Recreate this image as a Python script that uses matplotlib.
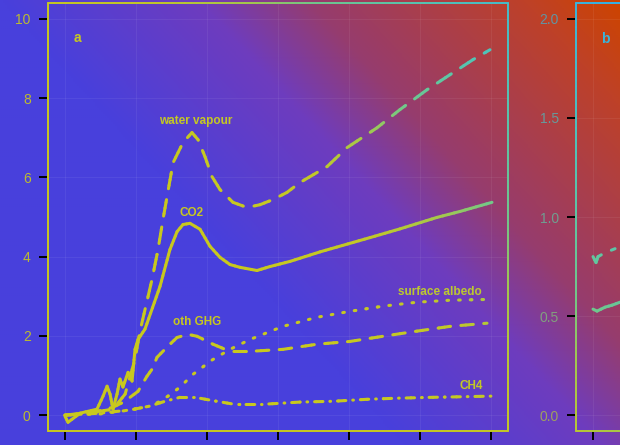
import numpy as np
import matplotlib
matplotlib.use("Agg")
import matplotlib.pyplot as plt
from matplotlib.colors import LinearSegmentedColormap

plt.rcParams['font.family'] = ['Liberation Sans', 'DejaVu Sans']
plt.rcParams['lines.scale_dashes'] = False

W, H, DPI = 620, 445, 100

# panel a, values (x in model years, y in W m-2)
co2_x = [0, 2.1, 10.6, 22.5, 26.8, 29.6, 31.7, 33.8, 36.6, 38.7, 40.8, 44.4, 47.2, 49.3, 51.4,
         56.3, 66.9, 73.9, 78.9, 83.1, 88.0, 95.1, 102.1, 109.2, 116.2, 123.2, 135.2, 144.4,
         158.5, 179.6, 214.8, 235.9, 262.0, 278.2, 300.7]
co2_y = [-0.03, -0.18, 0.05, 0.15, 0.48, 0.73, 0.53, 0.15, 0.53, 0.91, 0.71, 1.08, 0.86, 1.66, 1.91,
         2.17, 3.25, 4.18, 4.63, 4.81, 4.84, 4.69, 4.26, 3.98, 3.80, 3.73, 3.65, 3.75,
         3.88, 4.12, 4.48, 4.70, 4.99, 5.14, 5.37]

wv_x = [0, 24.6, 33.8, 42.3, 49.3, 52.8, 61.3, 65.5, 69.0, 76.1, 83.1, 89.4, 93.7, 98.6, 103.5,
        109.2, 118.3, 128.2, 137.3, 146.5, 156.3, 165.5, 184.5, 198.6, 219.7, 235.9, 254.9,
        271.1, 287.3, 299.3]
wv_y = [0, 0.10, 0.15, 0.53, 1.41, 2.12, 3.43, 4.18, 4.94, 6.37, 6.88, 7.13, 6.95, 6.52, 6.02,
        5.69, 5.37, 5.24, 5.31, 5.44, 5.62, 5.87, 6.27, 6.75, 7.25, 7.71, 8.21,
        8.59, 8.97, 9.22]

ghg_x = [0, 17.6, 33.8, 42.3, 45.8, 51.4, 57.7, 61.3, 64.8, 72.5, 78.9, 86.6, 93.0, 104.2,
         116.2, 130.3, 153.5, 177.5, 200.7, 223.9, 247.9, 271.1, 297.2]
ghg_y = [0, 0.05, 0.20, 0.35, 0.45, 0.60, 0.98, 1.16, 1.46, 1.74, 1.96, 2.04, 1.99, 1.79,
         1.61, 1.61, 1.66, 1.79, 1.86, 1.99, 2.12, 2.24, 2.32]

alb_x = [0, 24.6, 45.8, 59.9, 66.9, 72.5, 78.9, 84.5, 90.1, 95.1, 102.1, 116.2, 130.3,
         153.5, 177.5, 200.7, 223.9, 247.9, 271.1, 297.9]
alb_y = [0, 0.03, 0.13, 0.23, 0.35, 0.48, 0.65, 0.83, 1.03, 1.16, 1.36, 1.66, 1.91,
         2.24, 2.47, 2.62, 2.75, 2.85, 2.90, 2.92]

ch4_x = [0, 24.6, 45.8, 59.9, 70.4, 81.0, 91.5, 102.1, 118.3, 142.3, 165.5, 188.7, 212.7,
         235.9, 259.2, 300.7]
ch4_y = [0, 0.05, 0.13, 0.23, 0.35, 0.45, 0.45, 0.38, 0.28, 0.28, 0.33, 0.35, 0.40,
         0.43, 0.45, 0.48]

# panel b, only its left edge is in the picture
b_dash_x = [0, 2.1, 3.5, 8.5, 15.5]
b_dash_y = [0.80, 0.77, 0.80, 0.82, 0.84]
b_solid_x = [0, 2.8, 8.5, 13.4, 19.0]
b_solid_y = [0.535, 0.525, 0.545, 0.555, 0.57]

x_ticks = [0, 50, 100, 150, 200, 250, 300]
a_yticks = [0, 2, 4, 6, 8, 10]
b_yticks = [0.0, 0.5, 1.0, 1.5, 2.0]
b_ytick_labels = ['0.0', '0.5', '1.0', '1.5', '2.0']

bg_cmap = LinearSegmentedColormap.from_list('bg', [(0, '#4840dc'), (0.32, '#6e3cbe'), (0.5, '#963c6e'),
                                                  (0.85, '#be4128'), (1, '#cd4400')])
fg_cmap = LinearSegmentedColormap.from_list('fg', [(0, '#c8c81e'), (0.25, '#c2c828'), (0.4, '#a4c84c'),
                                                  (0.5, '#70c88c'), (0.7, '#50c4b8'), (1, '#30b0e8')])


def tval(px, py):
    # position along the diagonal colour wash, display pixels
    return np.clip(px / W + 0.65 * py / H - 0.65, 0, 1)


def fg_at(ax, x, y, tr=None):
    tr = tr or ax.transData
    px, py = tr.transform((x, y))
    return fg_cmap(tval(px, py))


def grad_line(ax, x, y, dashes=None, lw=2.2, tr=None, z=3):
    tr = tr or ax.transData
    P = tr.transform(np.column_stack([x, y]))
    pts = [P[0]]
    for a, b in zip(P[:-1], P[1:]):
        n = max(1, int(np.ceil(np.hypot(*(b - a)) / 6)))
        for k in range(1, n + 1):
            pts.append(a + (b - a) * k / n)
    pts = np.array(pts)
    cum = np.concatenate([[0], np.cumsum(np.hypot(*np.diff(pts, axis=0).T))]) * 72 / DPI
    inv = tr.inverted()
    for i in range(len(pts) - 1):
        mid = (pts[i] + pts[i + 1]) / 2
        ls = '-' if dashes is None else (cum[i], dashes)
        seg = inv.transform(pts[i:i + 2])
        ax.plot(seg[:, 0], seg[:, 1], color=fg_cmap(tval(*mid)), lw=lw, ls=ls, transform=tr,
                solid_capstyle='round', dash_capstyle='round', zorder=z, clip_on=False)


fig = plt.figure(figsize=(W / DPI, H / DPI), dpi=DPI)

bg = fig.add_axes([0, 0, 1, 1], zorder=-5)
gx, gy = np.meshgrid(np.linspace(0, W, 310), np.linspace(0, H, 220))
bg.imshow(tval(gx, gy), cmap=bg_cmap, vmin=0, vmax=1, origin='lower', extent=[0, 1, 0, 1], aspect='auto')
bg.axis('off')

ax = fig.add_axes([48 / W, 14 / H, 460 / W, 428 / H], facecolor='none')
bx = fig.add_axes([576 / W, 14 / H, 460 / W, 428 / H], facecolor='none')

ax.set_xlim(-12, 312)
ax.set_ylim(-0.4, 10.4)
bx.set_xlim(-12, 312)
bx.set_ylim(-0.08, 2.08)

for a, yt in [(ax, a_yticks), (bx, b_yticks)]:
    a.set_xticks(x_ticks)
    a.set_xticklabels([''] * len(x_ticks))
    a.set_yticks(yt)
    for s in a.spines.values():
        s.set_visible(False)
    a.tick_params(length=6.5, width=1.4, pad=6, labelsize=10)
    a.grid(True, color='white', alpha=0.06, lw=0.8)

ax.set_yticklabels([str(v) for v in a_yticks])
bx.set_yticklabels(b_ytick_labels)

for a, alpha in [(ax, 0.9), (bx, 0.7)]:
    x0 = a.get_xlim()[0]
    y0 = a.get_ylim()[0]
    for tk, v in zip(a.yaxis.get_major_ticks(), a.get_yticks()):
        c = fg_at(a, x0, v)
        tk.tick1line.set_color(c)
        tk.label1.set_color(c)
        tk.label1.set_alpha(alpha)
    for tk, v in zip(a.xaxis.get_major_ticks(), a.get_xticks()):
        tk.tick1line.set_color(fg_at(a, v, y0))
    frame_x = [0, 1, 1, 0, 0]
    frame_y = [0, 0, 1, 1, 0]
    grad_line(a, frame_x, frame_y, lw=1.4, tr=a.transAxes, z=4)

grad_line(ax, wv_x, wv_y, dashes=(12, 8))
grad_line(ax, co2_x, co2_y)
grad_line(ax, ghg_x, ghg_y, dashes=(9, 7.5))
grad_line(ax, alb_x, alb_y, dashes=(1.2, 7.2))
grad_line(ax, ch4_x, ch4_y, dashes=(6, 5, 0.5, 5))

grad_line(bx, b_dash_x, b_dash_y, dashes=(12, 8))
grad_line(bx, b_solid_x, b_solid_y)

labels = [('water vapour', 92.3, 7.43), ('CO2', 89.4, 5.11), ('oth GHG', 93.0, 2.34),
          ('surface albedo', 264.1, 3.12), ('CH4', 285.9, 0.73)]
for txt, lx, ly in labels:
    ax.text(lx, ly, txt, ha='center', va='center', fontsize=8.5, fontweight='bold',
            color=fg_at(ax, lx, ly))

ax.text(8.5, 9.52, 'a', ha='center', va='center', fontsize=10, fontweight='bold', color=fg_at(ax, 8.5, 9.52))
bx.text(8.5, 1.90, 'b', ha='center', va='center', fontsize=10, fontweight='bold', color=fg_at(bx, 8.5, 1.90))

fig.savefig('out.png', dpi=DPI)
